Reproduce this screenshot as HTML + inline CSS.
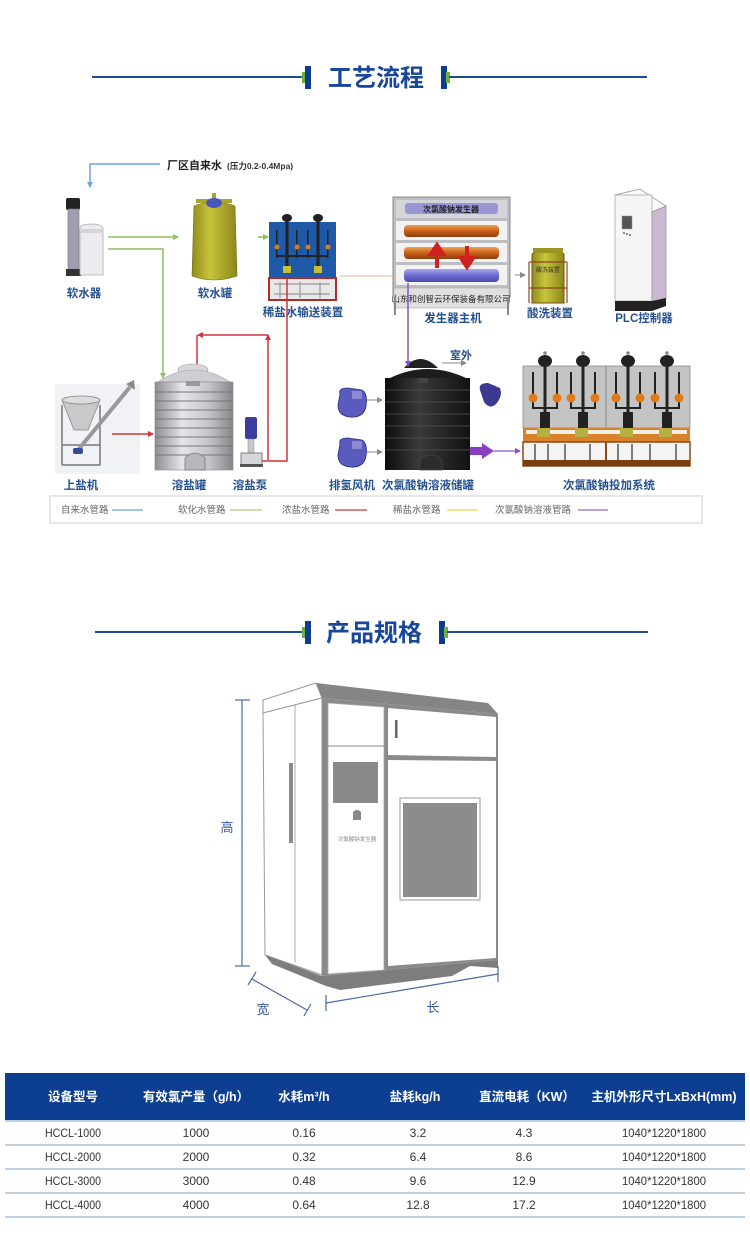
<!DOCTYPE html>
<html><head><meta charset="utf-8">
<style>
html,body{margin:0;padding:0;background:#fff;}
svg{display:block;}
text{font-family:"Liberation Sans","Noto Sans CJK SC",sans-serif;}
.lb{font-size:11.5px;font-weight:bold;fill:#24508f;}
.lg{font-size:9.5px;fill:#666;}
.th{font-size:12.5px;font-weight:bold;fill:#fff;}
.td{font-size:12px;fill:#333;}
</style></head>
<body>
<svg width="750" height="1253" viewBox="0 0 750 1253" xmlns="http://www.w3.org/2000/svg">
<defs>
<marker id="ab" markerWidth="6" markerHeight="6" refX="5" refY="3" orient="auto" markerUnits="userSpaceOnUse"><path d="M0,0 L6,3 L0,6 z" fill="#6fa0d8"/></marker>
<marker id="ag" markerWidth="6" markerHeight="6" refX="5" refY="3" orient="auto" markerUnits="userSpaceOnUse"><path d="M0,0 L6,3 L0,6 z" fill="#8dc15a"/></marker>
<marker id="ar" markerWidth="6" markerHeight="6" refX="5" refY="3" orient="auto" markerUnits="userSpaceOnUse"><path d="M0,0 L6,3 L0,6 z" fill="#d1343a"/></marker>
<marker id="ap" markerWidth="6" markerHeight="6" refX="5" refY="3" orient="auto" markerUnits="userSpaceOnUse"><path d="M0,0 L6,3 L0,6 z" fill="#8a4fc8"/></marker>
<marker id="ay" markerWidth="6" markerHeight="6" refX="5" refY="3" orient="auto" markerUnits="userSpaceOnUse"><path d="M0,0 L6,3 L0,6 z" fill="#888"/></marker>
<marker id="ao" markerWidth="6" markerHeight="6" refX="5" refY="3" orient="auto" markerUnits="userSpaceOnUse"><path d="M0,0 L6,3 L0,6 z" fill="#f0a070"/></marker>
<linearGradient id="silver" x1="0" x2="1" y1="0" y2="0"><stop offset="0" stop-color="#8e8e92"/><stop offset="0.35" stop-color="#e6e6ea"/><stop offset="0.7" stop-color="#c4c4c8"/><stop offset="1" stop-color="#85858a"/></linearGradient>
<linearGradient id="black" x1="0" x2="1" y1="0" y2="0"><stop offset="0" stop-color="#0c0c0c"/><stop offset="0.4" stop-color="#3a3a3a"/><stop offset="1" stop-color="#111"/></linearGradient>
<linearGradient id="olive" x1="0" x2="1" y1="0" y2="0"><stop offset="0" stop-color="#8f8c1c"/><stop offset="0.4" stop-color="#c9c43c"/><stop offset="1" stop-color="#8a871a"/></linearGradient>
<linearGradient id="orng" x1="0" x2="0" y1="0" y2="1"><stop offset="0" stop-color="#f0a050"/><stop offset="0.5" stop-color="#c8601a"/><stop offset="1" stop-color="#8a3e10"/></linearGradient>
<linearGradient id="purp" x1="0" x2="0" y1="0" y2="1"><stop offset="0" stop-color="#a8a8f0"/><stop offset="0.5" stop-color="#6a6ad0"/><stop offset="1" stop-color="#4a4aa8"/></linearGradient>
</defs>

<!-- ===== Title 1 ===== -->
<line x1="92" y1="77" x2="303" y2="77" stroke="#1e4c9a" stroke-width="2"/>
<rect x="302" y="72" width="4" height="11" fill="#6bb33a"/>
<rect x="305" y="66" width="6" height="23" fill="#0e3d8c"/>
<text x="376" y="86" text-anchor="middle" font-size="24" font-weight="bold" fill="#17469a">工艺流程</text>
<rect x="441" y="66" width="6" height="23" fill="#0e3d8c"/>
<rect x="446" y="72" width="4" height="11" fill="#6bb33a"/>
<line x1="449" y1="77" x2="647" y2="77" stroke="#1e4c9a" stroke-width="2"/>

<!-- ===== Process diagram ===== -->
<!-- tap water -->
<path d="M160,164 H90 V187" fill="none" stroke="#6fa0d8" stroke-width="1.5" marker-end="url(#ab)"/>
<text x="167" y="169" font-size="11" font-weight="bold" fill="#222">厂区自来水</text>
<text x="227" y="169" font-size="8.5" font-weight="bold" fill="#333">(压力0.2-0.4Mpa)</text>

<!-- softener -->
<rect x="66" y="198" width="14" height="12" rx="2" fill="#222"/>
<rect x="68" y="209" width="11" height="66" fill="#a19cae" stroke="#777" stroke-width="0.6"/>
<rect x="66" y="269" width="15" height="7" fill="#333"/>
<path d="M80,229 Q80,224 91,224 Q103,224 103,229 V275 H80 Z" fill="#ececf0" stroke="#aaa" stroke-width="0.8"/>
<rect x="80" y="229" width="23" height="4" fill="#d4d4dc"/>
<text x="84" y="297" text-anchor="middle" class="lb">软水器</text>

<!-- green lines -->
<path d="M108,237 H178" fill="none" stroke="#8dc15a" stroke-width="1.5" marker-end="url(#ag)"/>
<path d="M108,249 H163 V378" fill="none" stroke="#8dc15a" stroke-width="1.5" marker-end="url(#ag)"/>

<!-- soft water tank -->
<path d="M194,206 Q214,198 235,206 L237,276 Q214,284 192,276 Z" fill="url(#olive)" stroke="#6e6b12" stroke-width="0.6"/>
<rect x="196" y="199" width="36" height="4" fill="#a9a52a"/>
<rect x="212" y="193" width="4" height="14" fill="#a9a52a"/>
<ellipse cx="214" cy="203" rx="8" ry="5" fill="#4a56b8"/>
<text x="215" y="297" text-anchor="middle" class="lb">软水罐</text>

<!-- dilute brine delivery -->
<path d="M258,237 H268" fill="none" stroke="#8dc15a" stroke-width="1.5" marker-end="url(#ag)"/>
<rect x="269" y="222" width="67" height="56" fill="#1e5aa8"/>
<g fill="#222">
<ellipse cx="287" cy="218" rx="5" ry="4"/><ellipse cx="318" cy="218" rx="5" ry="4"/>
<rect x="285.5" y="218" width="3" height="50"/><rect x="316.5" y="218" width="3" height="50"/>
<rect x="276" y="230" width="1.5" height="28"/><rect x="296" y="230" width="1.5" height="28"/>
<rect x="307" y="230" width="1.5" height="28"/><rect x="327" y="230" width="1.5" height="28"/>
<rect x="276" y="255" width="52" height="2"/>
</g>
<g fill="#e07b1a"><circle cx="277" cy="247" r="2.5"/><circle cx="297" cy="247" r="2.5"/><circle cx="308" cy="247" r="2.5"/><circle cx="328" cy="247" r="2.5"/></g>
<rect x="283" y="266" width="8" height="7" fill="#c8c030"/><rect x="314" y="266" width="8" height="7" fill="#c8c030"/>
<rect x="269" y="278" width="67" height="22" fill="#e8e8e8" stroke="#b22a2a" stroke-width="2"/>
<path d="M274,284 H330 M274,294 H330 M280,282 V298 M300,282 V298 M320,282 V298" stroke="#999" stroke-width="1.2" fill="none"/>
<text x="303" y="316" text-anchor="middle" class="lb">稀盐水输送装置</text>

<!-- orange dilute line to generator -->
<path d="M340,276 H404" fill="none" stroke="#f0a070" stroke-width="1" marker-end="url(#ao)" opacity="0.8"/>

<!-- red brine lines -->
<path d="M268,460 V335" fill="none" stroke="#d1343a" stroke-width="1.5" marker-end="url(#ar)"/>
<path d="M268,335 H198" fill="none" stroke="#d1343a" stroke-width="1.5" marker-end="url(#ar)"/>
<path d="M197,335 V367" fill="none" stroke="#d1343a" stroke-width="1.5"/>
<path d="M262,461 H287 V279" fill="none" stroke="#d1343a" stroke-width="1.5"/>

<!-- generator host -->
<rect x="393" y="197" width="117" height="100" fill="#bdbec2" stroke="#8a8a8e" stroke-width="1"/>
<rect x="396" y="200" width="111" height="18" fill="#d4d4da"/>
<rect x="405" y="203" width="93" height="11" rx="3" fill="#9a96d4"/>
<text x="451" y="212" text-anchor="middle" font-size="8" font-weight="bold" fill="#222" font-family="'Noto Serif CJK SC',serif">次氯酸钠发生器</text>
<rect x="396" y="221" width="111" height="19" fill="#f2f2f2"/>
<rect x="404" y="225" width="95" height="12" rx="4" fill="url(#orng)"/>
<rect x="396" y="243" width="111" height="19" fill="#f2f2f2"/>
<rect x="404" y="247" width="95" height="12" rx="4" fill="url(#orng)"/>
<rect x="396" y="265" width="111" height="20" fill="#f2f2f2"/>
<rect x="404" y="269" width="95" height="13" rx="4" fill="url(#purp)"/>
<path d="M437,268 V250 M431,254 L437,245 L443,254 Z" fill="#d02020" stroke="#d02020" stroke-width="4"/>
<path d="M467,246 V262 M461,258 L467,267 L473,258 Z" fill="#d02020" stroke="#d02020" stroke-width="4"/>
<rect x="394" y="288" width="115" height="20" fill="#e0e0e0" stroke="#aaa" stroke-width="0.6"/>
<text x="451" y="302" text-anchor="middle" font-size="8.5" fill="#222" font-family="'Noto Serif CJK SC',serif">山东和创智云环保装备有限公司</text>
<rect x="394" y="297" width="2" height="18" fill="#888"/><rect x="507" y="297" width="2" height="18" fill="#888"/>
<text x="453" y="322" text-anchor="middle" class="lb">发生器主机</text>

<!-- acid wash -->
<path d="M515,275 H525" stroke="#888" stroke-width="1" marker-end="url(#ay)"/>
<path d="M532,254 Q548,244 564,254 V303 H532 Z" fill="url(#olive)" stroke="#7a4a1a" stroke-width="1"/>
<rect x="533" y="248" width="30" height="5" fill="#9a9620"/>
<path d="M529,262 H567 M529,288 H567 M529,262 V303 M567,262 V303" stroke="#8b4a1a" stroke-width="1.2" fill="none"/>
<text x="548" y="272" text-anchor="middle" font-size="6" fill="#333">酸洗装置</text>
<text x="550" y="317" text-anchor="middle" class="lb">酸洗装置</text>

<!-- PLC -->
<path d="M615,195 L640,189 L666,206 L652,212 Z" fill="#fafafa" stroke="#999" stroke-width="0.8"/>
<rect x="615" y="195" width="37" height="106" fill="#f5f5f5" stroke="#aaa" stroke-width="0.8"/>
<path d="M652,212 L666,206 V298 L652,303 Z" fill="#cdb8d2" stroke="#999" stroke-width="0.8"/>
<path d="M615,301 H652 L666,298 V306 L652,311 H615 Z" fill="#222"/>
<rect x="622" y="216" width="10" height="13" fill="#555" stroke="#999" stroke-width="0.5"/>
<g fill="#444"><circle cx="624" cy="233" r="0.9"/><circle cx="627" cy="234" r="0.9"/><circle cx="630" cy="235" r="0.9"/></g>
<text x="644" y="322" text-anchor="middle" class="lb">PLC控制器</text>

<!-- salt loader -->
<rect x="55" y="384" width="85" height="90" fill="#f1f2f5"/>
<path d="M62,400 L100,400 L88,430 L74,430 Z" fill="#c9c9cc" stroke="#888" stroke-width="0.8"/>
<ellipse cx="81" cy="400" rx="19" ry="4" fill="#dcdcdf" stroke="#888" stroke-width="0.8"/>
<path d="M62,405 V465 M100,405 V465 M62,445 H100 M62,465 H100" stroke="#777" stroke-width="1.5" fill="none"/>
<path d="M78,450 L130,387" stroke="#999" stroke-width="4"/>
<path d="M126,384 L134,380 L135,390 Z" fill="#888"/>
<rect x="73" y="448" width="10" height="6" rx="2" fill="#3a4a9a"/>
<text x="81" y="489" text-anchor="middle" class="lb">上盐机</text>
<path d="M112,434 H153" stroke="#d1343a" stroke-width="1.5" marker-end="url(#ar)"/>

<!-- dissolve tank -->
<ellipse cx="193" cy="370" rx="15" ry="6" fill="#d8d8dc" stroke="#999" stroke-width="0.6"/>
<path d="M158,382 Q193,358 230,382 Z" fill="#cfcfd3" stroke="#999" stroke-width="0.6"/>
<rect x="155" y="382" width="78" height="88" fill="url(#silver)" stroke="#888" stroke-width="0.6"/>
<rect x="186" y="381" width="14" height="5" fill="#999"/>
<g stroke="#777" stroke-width="1.1">
<line x1="155" y1="392" x2="233" y2="392"/><line x1="155" y1="401" x2="233" y2="401"/>
<line x1="155" y1="410" x2="233" y2="410"/><line x1="155" y1="419" x2="233" y2="419"/>
<line x1="155" y1="428" x2="233" y2="428"/><line x1="155" y1="437" x2="233" y2="437"/>
<line x1="155" y1="446" x2="233" y2="446"/><line x1="155" y1="455" x2="233" y2="455"/>
</g>
<path d="M185,470 V458 Q195,448 205,458 V470 Z" fill="#b8b8bc" stroke="#777" stroke-width="0.8"/>
<text x="189" y="489" text-anchor="middle" class="lb">溶盐罐</text>

<!-- pump -->
<rect x="245" y="417" width="12" height="22" rx="2" fill="#3c3ca0"/>
<rect x="248" y="439" width="6" height="14" fill="#c8c8cc" stroke="#888" stroke-width="0.5"/>
<rect x="241" y="453" width="21" height="13" fill="#d6d6da" stroke="#666" stroke-width="0.8"/>
<rect x="240" y="464" width="23" height="3" fill="#555"/>
<text x="250" y="489" text-anchor="middle" class="lb">溶盐泵</text>

<!-- fans -->
<path d="M340,394 Q338,388 348,388 L362,390 Q368,394 366,406 Q364,418 350,417 Q338,416 338,405 Z" fill="#5a5abf" stroke="#2e2e7a" stroke-width="0.8"/>
<rect x="352" y="391" width="10" height="8" fill="#8a8ad0"/>
<path d="M340,444 Q338,438 348,438 L362,440 Q368,444 366,456 Q364,468 350,467 Q338,466 338,455 Z" fill="#5a5abf" stroke="#2e2e7a" stroke-width="0.8"/>
<rect x="352" y="441" width="10" height="8" fill="#8a8ad0"/>
<path d="M367,400 H382" stroke="#888" stroke-width="1" marker-end="url(#ay)"/>
<path d="M367,452 H382" stroke="#888" stroke-width="1" marker-end="url(#ay)"/>
<text x="352" y="489" text-anchor="middle" class="lb">排氢风机</text>

<!-- black tank -->
<path d="M404,368 Q420,350 438,368 Z" fill="#222"/>
<path d="M390,378 Q427,360 466,378 Z" fill="#1c1c1c"/>
<rect x="385" y="378" width="85" height="92" fill="url(#black)"/>
<g stroke="#555" stroke-width="0.8">
<line x1="385" y1="390" x2="470" y2="390"/><line x1="385" y1="402" x2="470" y2="402"/>
<line x1="385" y1="414" x2="470" y2="414"/><line x1="385" y1="426" x2="470" y2="426"/>
<line x1="385" y1="438" x2="470" y2="438"/><line x1="385" y1="450" x2="470" y2="450"/>
</g>
<path d="M420,470 V460 Q430,450 442,460 V470 Z" fill="#2c2c2c" stroke="#444" stroke-width="0.8"/>
<rect x="418" y="378" width="10" height="5" fill="#444"/>
<path d="M408,283 V366" stroke="#8a4fc8" stroke-width="1.5" marker-end="url(#ap)"/>
<path d="M442,363 H466" stroke="#888" stroke-width="1" marker-end="url(#ay)"/>
<text x="461" y="359" text-anchor="middle" font-size="11" font-weight="bold" fill="#24508f">室外</text>
<path d="M480,390 Q478,383 488,383 L500,388 Q503,396 496,404 Q490,410 484,402 Z" fill="#3a3a90"/>
<text x="428" y="489" text-anchor="middle" class="lb">次氯酸钠溶液储罐</text>

<!-- purple arrow to dosing -->
<path d="M470,447 H482 V443 L494,451 L482,459 V455 H470 Z" fill="#8a3fc0"/>
<path d="M494,451 H520" stroke="#8a4fc8" stroke-width="1.2" marker-end="url(#ap)"/>

<!-- dosing system -->
<rect x="523" y="366" width="167" height="62" fill="#c4c4c4" stroke="#8a8a8a" stroke-width="0.8"/>
<line x1="606" y1="366" x2="606" y2="428" stroke="#888" stroke-width="1"/>
<g>
<g fill="#222">
<ellipse cx="545" cy="361" rx="7" ry="6"/><ellipse cx="583" cy="361" rx="7" ry="6"/><ellipse cx="628" cy="361" rx="7" ry="6"/><ellipse cx="667" cy="361" rx="7" ry="6"/>
<rect x="543.5" y="366" width="3" height="62"/><rect x="581.5" y="366" width="3" height="62"/><rect x="626.5" y="366" width="3" height="62"/><rect x="665.5" y="366" width="3" height="62"/>
<rect x="532" y="372" width="2" height="24"/><rect x="556" y="372" width="2" height="24"/><rect x="570" y="372" width="2" height="24"/><rect x="594" y="372" width="2" height="24"/>
<rect x="615" y="372" width="2" height="24"/><rect x="639" y="372" width="2" height="24"/><rect x="654" y="372" width="2" height="24"/><rect x="678" y="372" width="2" height="24"/>
<rect x="540" y="412" width="10" height="16"/><rect x="578" y="412" width="10" height="16"/><rect x="623" y="412" width="10" height="16"/><rect x="662" y="412" width="10" height="16"/>
</g>
<g fill="none" stroke="#222" stroke-width="2">
<path d="M533,402 V408 H557 V402"/><path d="M571,402 V408 H595 V402"/><path d="M616,402 V408 H640 V402"/><path d="M655,402 V408 H679 V402"/>
</g>
<g fill="#888"><circle cx="545" cy="353" r="1.8"/><circle cx="583" cy="353" r="1.8"/><circle cx="628" cy="353" r="1.8"/><circle cx="667" cy="353" r="1.8"/></g>
<g fill="#e07b1a"><circle cx="533" cy="398" r="4.5"/><circle cx="557" cy="398" r="4.5"/><circle cx="571" cy="398" r="4.5"/><circle cx="595" cy="398" r="4.5"/><circle cx="616" cy="398" r="4.5"/><circle cx="640" cy="398" r="4.5"/><circle cx="655" cy="398" r="4.5"/><circle cx="679" cy="398" r="4.5"/></g>
</g>
<rect x="523" y="428" width="167" height="14" fill="#d9822b"/>
<rect x="526" y="430" width="161" height="4" fill="#f4f0e8"/>
<g fill="#b7b040"><rect x="537" y="428" width="13" height="9"/><rect x="575" y="428" width="13" height="9"/><rect x="620" y="428" width="13" height="9"/><rect x="659" y="428" width="13" height="9"/></g>
<rect x="523" y="442" width="167" height="24" fill="#f4f4f4" stroke="#8b4a1a" stroke-width="1.5"/>
<line x1="606" y1="442" x2="606" y2="466" stroke="#8b4a1a" stroke-width="2"/>
<g stroke="#555" stroke-width="1.5"><line x1="535" y1="444" x2="535" y2="460"/><line x1="548" y1="444" x2="548" y2="460"/><line x1="565" y1="444" x2="565" y2="460"/><line x1="590" y1="444" x2="590" y2="460"/><line x1="618" y1="444" x2="618" y2="460"/><line x1="632" y1="444" x2="632" y2="460"/><line x1="650" y1="444" x2="650" y2="460"/><line x1="676" y1="444" x2="676" y2="460"/></g>
<rect x="523" y="460" width="167" height="6" fill="#7a3e12"/>
<text x="609" y="489" text-anchor="middle" class="lb">次氯酸钠投加系统</text>

<!-- legend -->
<rect x="50" y="496" width="652" height="27" fill="#fff" stroke="#cfcfcf" stroke-width="1"/>
<text x="61" y="513" class="lg">自来水管路</text><line x1="112" y1="510" x2="143" y2="510" stroke="#6fa0d8" stroke-width="1.2"/>
<text x="178" y="513" class="lg">软化水管路</text><line x1="230" y1="510" x2="262" y2="510" stroke="#a8cc78" stroke-width="1.2"/>
<text x="282" y="513" class="lg">浓盐水管路</text><line x1="335" y1="510" x2="367" y2="510" stroke="#d1343a" stroke-width="1.2"/>
<text x="393" y="513" class="lg">稀盐水管路</text><line x1="447" y1="510" x2="478" y2="510" stroke="#f0d44a" stroke-width="1.2"/>
<text x="495" y="513" class="lg">次氯酸钠溶液管路</text><line x1="578" y1="510" x2="608" y2="510" stroke="#8a6ad0" stroke-width="1.2"/>

<!-- ===== Title 2 ===== -->
<line x1="95" y1="632" x2="303" y2="632" stroke="#1e4c9a" stroke-width="2"/>
<rect x="302" y="627" width="4" height="11" fill="#6bb33a"/>
<rect x="305" y="621" width="6" height="23" fill="#0e3d8c"/>
<text x="374" y="641" text-anchor="middle" font-size="24" font-weight="bold" fill="#17469a">产品规格</text>
<rect x="439" y="621" width="6" height="23" fill="#0e3d8c"/>
<rect x="444" y="627" width="4" height="11" fill="#6bb33a"/>
<line x1="447" y1="632" x2="648" y2="632" stroke="#1e4c9a" stroke-width="2"/>

<!-- ===== Cabinet ===== -->
<g stroke-linejoin="round">
<path d="M263,700 L316,683 L322,698 L263,713 Z" fill="#fff" stroke="#999" stroke-width="1"/>
<path d="M316,683 L488,703 L498,714 L322,698 Z" fill="#858585"/>
<path d="M263,713 L322,698 L322,975 L265,955 Z" fill="#fff" stroke="#999" stroke-width="1"/>
<line x1="295" y1="705" x2="295" y2="962" stroke="#aaa" stroke-width="1"/>
<rect x="289" y="763" width="4" height="80" fill="#8a8a8a"/>
<path d="M322,698 L498,714 L498,960 L322,976 Z" fill="#8a8a8a"/>
<path d="M328,703 L384,707 L384,970 L328,974 Z" fill="#fff" stroke="#aaa" stroke-width="0.8"/>
<line x1="328" y1="746" x2="384" y2="746" stroke="#888" stroke-width="1"/>
<rect x="333" y="762" width="45" height="41" fill="#8a8a8a"/>
<path d="M353,812 Q357,808 361,812 V820 H353 Z" fill="#888"/>
<text x="357" y="841" text-anchor="middle" font-size="5.5" fill="#888">次氯酸钠发生器</text>
<path d="M388,708 L496,717 L496,757 L388,755 Z" fill="#fff"/>
<rect x="395" y="720" width="2.5" height="18" fill="#666"/>
<path d="M388,760 L496,761 L496,958 L388,966 Z" fill="#fff"/>
<rect x="400" y="798" width="80" height="102" fill="#fff" stroke="#999" stroke-width="1"/>
<rect x="403" y="803" width="74" height="94" fill="#8c8c8c"/>
<path d="M265,955 L322,976 L498,960 L498,968 L470,966 L452,976 L340,990 L326,986 L272,964 Z" fill="#7d7d7d"/>
</g>
<!-- dimensions -->
<g stroke="#4a6aa8" stroke-width="1.2" fill="none">
<line x1="242" y1="700" x2="242" y2="966"/>
<line x1="235" y1="700" x2="250" y2="700"/><line x1="235" y1="966" x2="250" y2="966"/>
<line x1="252" y1="979" x2="307" y2="1010"/>
<line x1="248" y1="985" x2="256" y2="972"/><line x1="304" y1="1016" x2="311" y2="1004"/>
<line x1="326" y1="1003" x2="498" y2="974"/>
<line x1="326" y1="995" x2="326" y2="1011"/><line x1="498" y1="966" x2="498" y2="982"/>
</g>
<text x="227" y="832" text-anchor="middle" font-size="13" fill="#3a5a9a">高</text>
<text x="263" y="1014" text-anchor="middle" font-size="13" fill="#3a5a9a">宽</text>
<text x="433" y="1012" text-anchor="middle" font-size="13" fill="#3a5a9a">长</text>

<!-- ===== Table ===== -->
<rect x="5" y="1073" width="740" height="47" fill="#0c3f92"/>
<text x="73" y="1101" text-anchor="middle" class="th">设备型号</text>
<text x="196" y="1101" text-anchor="middle" class="th">有效氯产量（g/h）</text>
<text x="304" y="1101" text-anchor="middle" class="th">水耗m³/h</text>
<text x="415" y="1101" text-anchor="middle" class="th">盐耗kg/h</text>
<text x="527" y="1101" text-anchor="middle" class="th">直流电耗（KW）</text>
<text x="664" y="1101" text-anchor="middle" class="th">主机外形尺寸LxBxH(mm)</text>
<g stroke="#a9bfe0" stroke-width="1.5">
<line x1="5" y1="1121" x2="745" y2="1121"/><line x1="5" y1="1145" x2="745" y2="1145"/>
<line x1="5" y1="1169" x2="745" y2="1169"/><line x1="5" y1="1193" x2="745" y2="1193"/>
<line x1="5" y1="1217" x2="745" y2="1217"/>
</g>
<g class="td">
<text x="73" y="1137" text-anchor="middle" class="td" textLength="56" lengthAdjust="spacingAndGlyphs">HCCL-1000</text>
<text x="196" y="1137" text-anchor="middle" class="td">1000</text>
<text x="304" y="1137" text-anchor="middle" class="td">0.16</text>
<text x="418" y="1137" text-anchor="middle" class="td">3.2</text>
<text x="524" y="1137" text-anchor="middle" class="td">4.3</text>
<text x="664" y="1137" text-anchor="middle" class="td" textLength="84" lengthAdjust="spacingAndGlyphs">1040*1220*1800</text>

<text x="73" y="1161" text-anchor="middle" class="td" textLength="56" lengthAdjust="spacingAndGlyphs">HCCL-2000</text>
<text x="196" y="1161" text-anchor="middle" class="td">2000</text>
<text x="304" y="1161" text-anchor="middle" class="td">0.32</text>
<text x="418" y="1161" text-anchor="middle" class="td">6.4</text>
<text x="524" y="1161" text-anchor="middle" class="td">8.6</text>
<text x="664" y="1161" text-anchor="middle" class="td" textLength="84" lengthAdjust="spacingAndGlyphs">1040*1220*1800</text>

<text x="73" y="1185" text-anchor="middle" class="td" textLength="56" lengthAdjust="spacingAndGlyphs">HCCL-3000</text>
<text x="196" y="1185" text-anchor="middle" class="td">3000</text>
<text x="304" y="1185" text-anchor="middle" class="td">0.48</text>
<text x="418" y="1185" text-anchor="middle" class="td">9.6</text>
<text x="524" y="1185" text-anchor="middle" class="td">12.9</text>
<text x="664" y="1185" text-anchor="middle" class="td" textLength="84" lengthAdjust="spacingAndGlyphs">1040*1220*1800</text>

<text x="73" y="1209" text-anchor="middle" class="td" textLength="56" lengthAdjust="spacingAndGlyphs">HCCL-4000</text>
<text x="196" y="1209" text-anchor="middle" class="td">4000</text>
<text x="304" y="1209" text-anchor="middle" class="td">0.64</text>
<text x="418" y="1209" text-anchor="middle" class="td">12.8</text>
<text x="524" y="1209" text-anchor="middle" class="td">17.2</text>
<text x="664" y="1209" text-anchor="middle" class="td" textLength="84" lengthAdjust="spacingAndGlyphs">1040*1220*1800</text>
</g>
</svg>
</body></html>
